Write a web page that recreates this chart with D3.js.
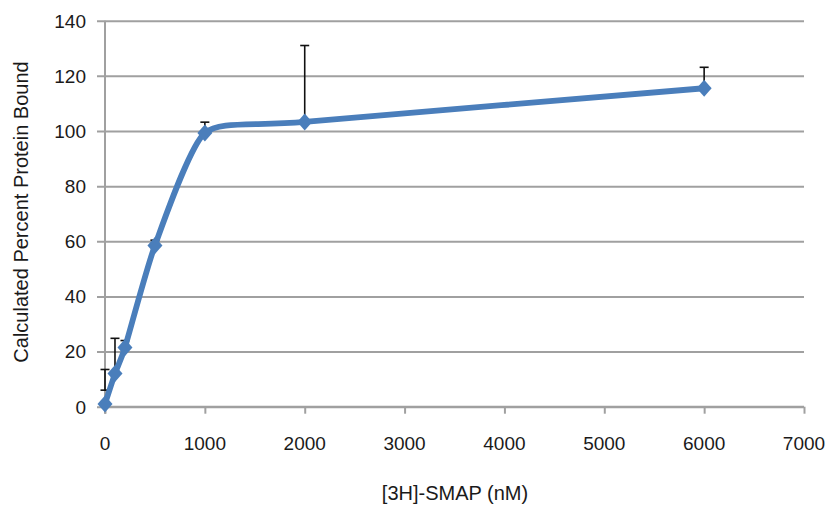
<!DOCTYPE html>
<html>
<head>
<meta charset="utf-8">
<style>
  body { margin: 0; background: #fff; }
  text { font-family: "Liberation Sans", Arial, sans-serif; fill: #1a1a1a; }
</style>
</head>
<body>
<svg width="831" height="510"></svg>
<script src="https://d3js.org/d3.v7.min.js"></script>
<script>

    // binding curve, [3H]-SMAP concentration vs calculated percent protein bound
    var conc = [0, 100, 200, 500, 1000, 2000, 6000];
    var bound = [1, 12, 21.5, 58.5, 99.3, 103.3, 115.5];
    // error bar ends (upper / lower), in percent
    var errTop = [13.5, 24.8, 24, 60.4, 103.2, 131, 123.1];
    var errBottom = [6, 12, 21.5, 58.5, 99.3, 103.3, 115.5];

    var xTicks = [0, 1000, 2000, 3000, 4000, 5000, 6000, 7000];
    var yTicks = [0, 20, 40, 60, 80, 100, 120, 140];

    var svg = d3.select("svg"),
        plotLeft = 105, plotRight = 804, plotTop = 20.7, plotBottom = 406.7;

    var x = d3.scaleLinear().domain([0, 7000]).range([plotLeft, plotRight]);
    var y = d3.scaleLinear().domain([0, 140]).range([plotBottom, plotTop]);

    var grey = "#a0a0a0";

    // horizontal gridlines (they also act as the y tick marks)
    svg.append("g")
        .attr("transform", "translate(" + plotLeft + ",0)")
        .call(d3.axisLeft(y).tickValues(yTicks).tickSize(8).tickFormat(""))
        .call(function (g) {
            g.select(".domain").remove();
            g.selectAll(".tick line").attr("stroke", grey).attr("stroke-width", 2)
                .attr("x1", plotRight - plotLeft);
        });

    // y axis line
    svg.append("line")
        .attr("x1", plotLeft).attr("x2", plotLeft)
        .attr("y1", y(140)).attr("y2", plotBottom + 7)
        .attr("stroke", grey).attr("stroke-width", 2);

    // x axis
    svg.append("g")
        .attr("transform", "translate(0," + plotBottom + ")")
        .call(d3.axisBottom(x).tickValues(xTicks).tickSize(7).tickFormat(""))
        .call(function (g) {
            g.select(".domain").attr("stroke", grey).attr("stroke-width", 2)
                .attr("d", "M" + plotLeft + ",0H" + plotRight);
            g.selectAll(".tick line").attr("stroke", grey).attr("stroke-width", 2);
        });

    // tick labels
    svg.selectAll(".ylab").data(yTicks).enter().append("text")
        .attr("class", "ylab")
        .attr("x", 86)
        .attr("y", function (d) { return y(d); })
        .attr("dy", "0.36em")
        .attr("text-anchor", "end")
        .style("font-size", "19px")
        .text(function (d) { return d; });

    svg.selectAll(".xlab").data(xTicks).enter().append("text")
        .attr("class", "xlab")
        .attr("x", function (d) { return x(d); })
        .attr("y", 450)
        .attr("text-anchor", "middle")
        .style("font-size", "19px")
        .text(function (d) { return d; });

    // axis titles
    svg.append("text")
        .attr("transform", "translate(28,212) rotate(-90)")
        .attr("text-anchor", "middle")
        .style("font-size", "20px")
        .text("Calculated Percent Protein Bound");

    svg.append("text")
        .attr("x", 455)
        .attr("y", 500)
        .attr("text-anchor", "middle")
        .style("font-size", "20px")
        .text("[3H]-SMAP (nM)");

    var pts = conc.map(function (c, i) {
        return {c: c, v: bound[i], hi: errTop[i], lo: errBottom[i]};
    });

    // error bars
    var eb = svg.append("g").attr("stroke", "#111").attr("stroke-width", 1.6);
    pts.forEach(function (d) {
        if (d.hi - d.lo < 0.5) return;
        eb.append("line")
            .attr("x1", x(d.c)).attr("x2", x(d.c))
            .attr("y1", y(d.hi)).attr("y2", y(d.lo));
        eb.append("line")
            .attr("x1", x(d.c) - 4.5).attr("x2", x(d.c) + 4.5)
            .attr("y1", y(d.hi)).attr("y2", y(d.hi));
        if (d.lo > d.v + 1) {
            eb.append("line")
                .attr("x1", x(d.c) - 4.5).attr("x2", x(d.c) + 4.5)
                .attr("y1", y(d.lo)).attr("y2", y(d.lo));
        }
    });

    // smoothed series line (shorter tangents than catmull-rom, like excel's smoothing)
    var line = d3.line()
        .x(function (d) { return x(d.c); })
        .y(function (d) { return y(d.v); })
        .curve(d3.curveCardinal.tension(0.4));

    svg.append("path")
        .datum(pts)
        .attr("d", line)
        .attr("fill", "none")
        .attr("stroke", "#4a7ebb")
        .attr("stroke-width", 5.8)
        .attr("stroke-linejoin", "round");

    // diamond markers
    svg.selectAll(".mk").data(pts).enter().append("path")
        .attr("class", "mk")
        .attr("transform", function (d) { return "translate(" + x(d.c) + "," + y(d.v) + ")"; })
        .attr("d", "M0,-8.5L7.5,0L0,8.5L-7.5,0Z")
        .attr("fill", "#4a7ebb");

</script>
</body>
</html>
